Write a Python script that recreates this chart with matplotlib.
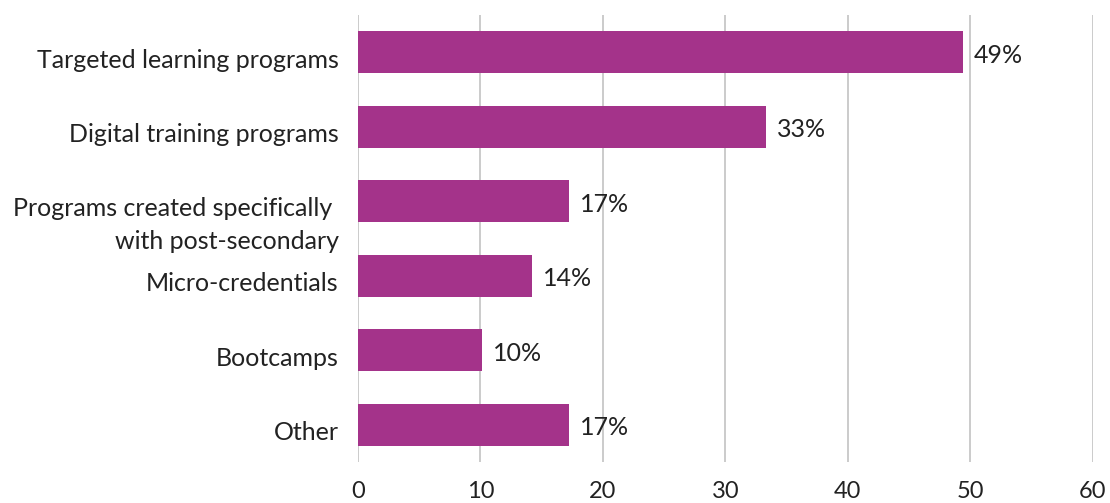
import matplotlib.pyplot as plt
from matplotlib.transforms import ScaledTranslation

categories = ["Targeted learning programs",
              "Digital training programs",
              "Programs created specifically \nwith post-secondary",
              "Micro-credentials",
              "Bootcamps",
              "Other"]
values = [49.4, 33.3, 17.2, 14.2, 10.1, 17.2]
labels = ["49%", "33%", "17%", "14%", "10%", "17%"]
xticks = [0, 10, 20, 30, 40, 50, 60]

plt.rcParams['font.family'] = ['Lato', 'DejaVu Sans']
FS = 18

fig = plt.figure(figsize=(11.1, 5.03), dpi=100)
ax = fig.add_axes([358 / 1110, 1 - 462 / 503, (1092.5 - 358) / 1110, 447 / 503])

ypos = list(range(len(categories)))
ax.barh(ypos, values, height=0.565, color='#A4338A', zorder=3)
for y, v, lab in zip(ypos, values, labels):
    ax.annotate(lab, (v, y), xytext=(8, -2), textcoords='offset points',
                va='center', ha='left', fontsize=FS, color='#222222')

ax.set_xlim(0, 60)
ax.set_ylim(len(categories) - 0.5, -0.5)
ax.set_xticks(xticks)
ax.set_yticks(ypos)
ax.set_yticklabels(categories, fontsize=FS, color='#222222')
ax.tick_params(axis='both', length=0, labelsize=FS, colors='#222222')
ax.tick_params(axis='y', pad=14)
ax.tick_params(axis='x', pad=14, labelsize=17)
ax.grid(axis='x', color='#BDBDBD', linewidth=1.1, zorder=0)
for s in ax.spines.values():
    s.set_visible(False)

# category labels sit slightly below their bars
for i, lbl in enumerate(ax.get_yticklabels()):
    dy = -0.17 if i == 2 else -0.06
    if i == 2:
        lbl.set_linespacing(1.5)
    lbl.set_transform(lbl.get_transform() + ScaledTranslation(0, dy, fig.dpi_scale_trans))

fig.savefig('out.png', dpi=100)
